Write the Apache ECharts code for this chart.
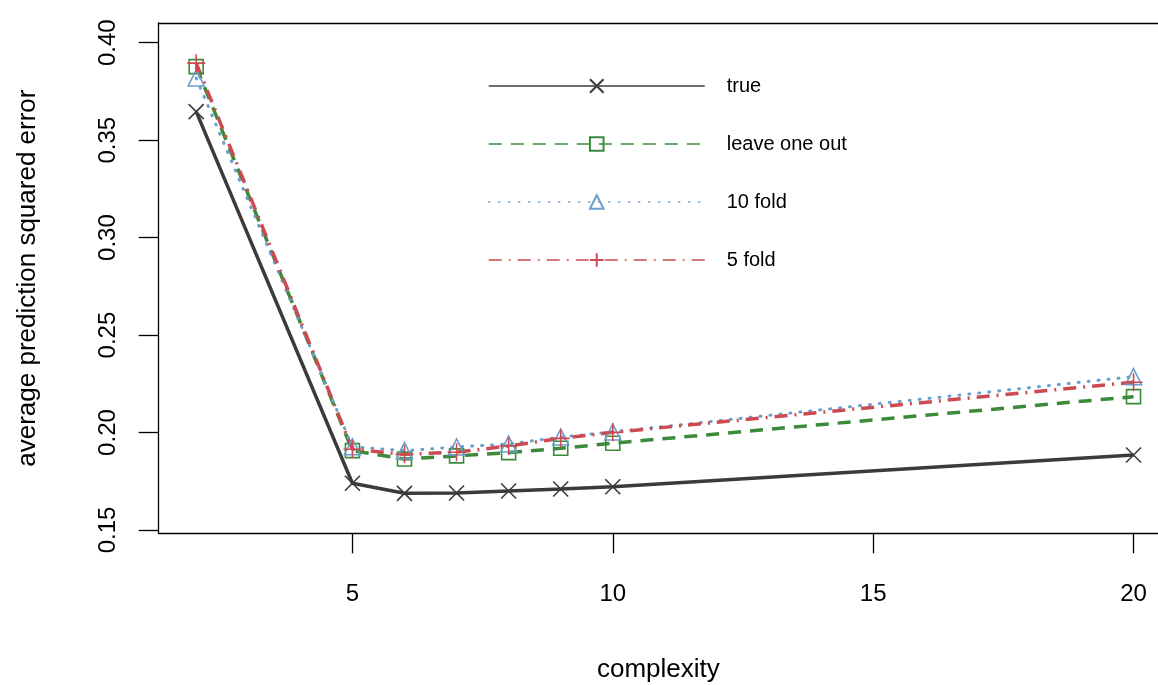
<!DOCTYPE html>
<html>
<head>
<meta charset="utf-8">
<script src="https://cdn.jsdelivr.net/npm/echarts@6/dist/echarts.min.js"></script>
<style>
html,body{margin:0;padding:0;background:#fff;}
#chart{width:1158px;height:685px;}
</style>
</head>
<body>
<div id="chart"></div>
<script>
const complexity = [2, 5, 6, 7, 8, 9, 10, 20];
const trueErr = [0.3646, 0.1740, 0.1688, 0.1690, 0.1700, 0.1710, 0.1722, 0.1885];
const looErr  = [0.3877, 0.1907, 0.1864, 0.1880, 0.1897, 0.1919, 0.1945, 0.2184];
const tenFoldErr = [0.3819, 0.1927, 0.1907, 0.1926, 0.1941, 0.1977, 0.2003, 0.2287];
const fiveFoldErr = [0.3895, 0.1914, 0.1888, 0.1899, 0.1931, 0.1970, 0.2001, 0.2258];
const seriesNames = ['true', 'leave one out', '10 fold', '5 fold'];
const xTicks = [5, 10, 15, 20];
const yTicks = [0.15, 0.20, 0.25, 0.30, 0.35, 0.40];

const FONT = '"Liberation Sans", Arial, Helvetica, sans-serif';
const pair = (ys) => complexity.map((x, i) => [x, ys[i]]);

const crossPath = 'path://M0,0L10,10M10,0L0,10';
const plusPath = 'path://M5,0L5,10M0,5L10,5';

function mk(name, data, color, lineType, width, symbol, symSize, cap) {
  return {
    name: name,
    type: 'line',
    xAxisIndex: 0,
    yAxisIndex: 0,
    data: pair(data),
    symbol: symbol,
    symbolSize: symSize,
    showSymbol: true,
    animation: false,
    lineStyle: { color: color, width: width, type: lineType, cap: cap || 'butt' },
    itemStyle: { color: 'rgba(255,255,255,0)', borderColor: color, borderWidth: 1.6 },
    emphasis: { disabled: true }
  };
}

const X_MIN = 1.28, X_MAX = 20.47;
const chart = echarts.init(document.getElementById('chart'), null, { renderer: 'canvas' });
chart.setOption({
  backgroundColor: '#ffffff',
  animation: false,
  textStyle: { fontFamily: FONT },
  grid: {
    left: 158.7, top: 23, right: 0, height: 510.3,
    show: false,
    containLabel: false,
    outerBoundsMode: 'none'
  },
  legend: {
    orient: 'vertical',
    left: 483, top: 71,
    itemWidth: 216, itemHeight: 17, itemGap: 38,
    data: seriesNames,
    lineStyle: { width: 1.5 },
    textStyle: { fontSize: 20, color: '#000', fontFamily: FONT, padding: [0, 0, 0, 17] },
    selectedMode: false
  },
  xAxis: [{
    type: 'value',
    position: 'bottom',
    min: X_MIN, max: X_MAX,
    name: 'complexity',
    nameLocation: 'middle',
    nameGap: 124,
    nameTextStyle: { fontSize: 26, color: '#000', fontFamily: FONT },
    axisLine: { show: true, onZero: false, lineStyle: { color: '#000', width: 1.3 } },
    splitLine: { show: false },
    axisTick: { show: true, inside: false, length: 20, customValues: xTicks, lineStyle: { color: '#000', width: 1.3 } },
    axisLabel: { show: true, customValues: xTicks, margin: 49, fontSize: 24, color: '#000', fontFamily: FONT }
  }, {
    type: 'value',
    position: 'top',
    min: X_MIN, max: X_MAX,
    axisLine: { show: true, onZero: false, lineStyle: { color: '#000', width: 1.3 } },
    splitLine: { show: false },
    axisTick: { show: false },
    axisLabel: { show: false }
  }],
  yAxis: {
    type: 'value',
    min: 0.1483, max: 0.4101,
    name: 'average prediction squared error',
    nameLocation: 'middle',
    nameGap: 118,
    nameRotate: 90,
    nameTextStyle: { fontSize: 26, color: '#000', fontFamily: FONT },
    axisLine: { show: true, onZero: false, lineStyle: { color: '#000', width: 1.3 } },
    splitLine: { show: false },
    axisTick: { show: true, inside: false, length: 20, customValues: yTicks, lineStyle: { color: '#000', width: 1.3 } },
    axisLabel: {
      show: true, customValues: yTicks, rotate: 90, margin: 38, fontSize: 24, color: '#000', fontFamily: FONT,
      formatter: (v) => v.toFixed(2)
    }
  },
  series: [
    mk(seriesNames[0], trueErr, '#3b3b3b', 'solid', 3.5, crossPath, 15),
    mk(seriesNames[1], looErr, '#3a8a3a', [13, 9], 3.5, 'rect', 14),
    mk(seriesNames[2], tenFoldErr, '#6c9ecc', [1, 9], 3, 'triangle', 16, 'round'),
    mk(seriesNames[3], fiveFoldErr, '#cc4b52', [13, 7, 2, 7], 3.5, plusPath, 18)
  ]
});
</script>
</body>
</html>
